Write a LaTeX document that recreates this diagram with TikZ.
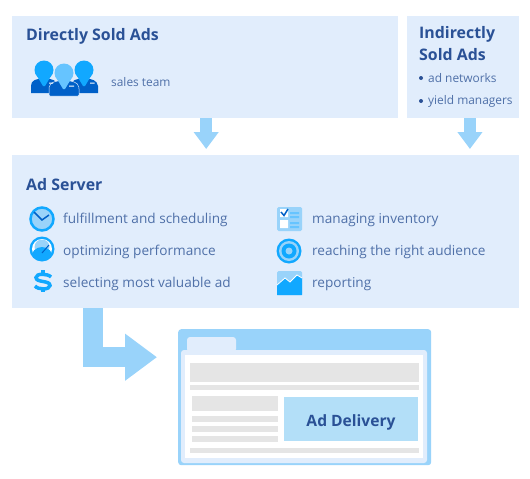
\documentclass[tikz,border=0pt]{standalone}
\usepackage{fontspec}
\setmainfont{Open Sans}
\usetikzlibrary{arrows.meta}
\definecolor{panelblue}{HTML}{E1EDFC}
\definecolor{flowblue}{HTML}{99D3FA}
\definecolor{titleblue}{HTML}{2A5196}
\definecolor{itemblue}{HTML}{4F70A8}
\definecolor{iconblue}{HTML}{11A8FF}
\definecolor{icondark}{HTML}{0060C8}
\definecolor{iconlight}{HTML}{66C4FF}
\definecolor{adblue}{HTML}{B3DFF8}
\definecolor{bargray}{HTML}{E5E5E5}
\tikzset{
  panel/.style={fill=panelblue,anchor=north west,inner sep=0pt},
  title/.style={anchor=base west,inner sep=0pt,text=titleblue,font=\fontsize{15.9}{19}\selectfont\bfseries},
  item/.style={anchor=base west,inner sep=0pt,text=itemblue,font=\fontsize{13.6}{16}\selectfont},
  small/.style={anchor=base west,inner sep=0pt,text=itemblue,font=\fontsize{11.9}{14}\selectfont},
  flow/.style={draw=flowblue,line width=#1,-{Triangle[length=17pt,width=24pt]},shorten >=6pt},
  bar/.style={fill=bargray},
}
\begin{document}
\begin{tikzpicture}[x=1pt,y=-1pt]
\useasboundingbox (0,0) rectangle (530,479);
\node[panel,minimum width=386pt,minimum height=102pt] (direct) at (12,16) {};
\node[panel,minimum width=111.5pt,minimum height=102pt] (indirect) at (407,16) {};
\node[panel,minimum width=507pt,minimum height=153pt] (server) at (12,155) {};
% browser window
\node[fill=flowblue,rounded corners=3pt,anchor=north west,inner sep=0pt,minimum width=253pt,minimum height=136pt] (browser) at (178,329) {};
\fill[panelblue,rounded corners=3pt] (187,352) -- (187,337) -- (236,337) -- (236,352) -- cycle;
\fill[panelblue,rounded corners=3pt] (181,350) rectangle (427,463);
\fill[white] (185,355) rectangle (423,458);
\fill[bar] (190,363) rectangle (419,382);
\fill[bar] (190,385) rectangle (419,389.5);
\fill[bar] (191.5,396) rectangle (278,411);
\fill[bar] (191.5,416) rectangle (278,422);
\fill[bar] (191.5,426) rectangle (278,432);
\fill[bar] (191.5,436) rectangle (278,442);
\fill[bar] (190,448) rectangle (419,452.5);
\node[fill=adblue,anchor=north west,inner sep=0pt,minimum width=134pt,minimum height=44.5pt] (deliverybox) at (284,396.5) {};
\node[title,anchor=base,font=\fontsize{15.6}{19}\selectfont\bfseries] (delivery) at (351,426) {Ad Delivery};
% arrows
\draw[flow=12pt] ([xshift=1pt]direct.south) -- ([xshift=1pt]direct.south |- server.north);
\draw[flow=12pt] ([xshift=7pt]indirect.south) -- ([xshift=7pt]indirect.south |- server.north);
\draw[draw=flowblue,line width=20pt,-{Triangle[length=32pt,width=45pt]},shorten >=21pt] ([xshift=81pt]server.south west) |- ([yshift=40pt]browser.west);
% labels
\node[title] (directtitle) at (26,40.5) {Directly Sold Ads};
\node[small] (sales) at (111,86) {sales team};
\node[title] (indirecttitle) at (419,38) {Indirectly};
\node[title] (indirecttitleb) at (419,60) {Sold Ads};
\node[small] (networks) at (428,82) {ad networks};
\node[small] (yield) at (428,104) {yield managers};
\fill[titleblue] (421,78) circle (2pt) (421,101) circle (2pt);
\node[title] (servertitle) at (26,190) {Ad Server};
\node[item] (fulfil) at (63,223) {fulfillment and scheduling};
\node[item] (optim) at (63,255) {optimizing performance};
\node[item] (select) at (63,287) {selecting most valuable ad};
\node[item] (manage) at (312,223) {managing inventory};
\node[item] (reach) at (312,255) {reaching the right audience};
\node[item] (report) at (312,287) {reporting};
% sales team
\foreach \x in {44,84} {
  \fill[icondark] (\x-13,93) -- (\x-13,86) .. controls (\x-13,80) and (\x-8,79) .. (\x,78) .. controls (\x+8,79) and (\x+13,80) .. (\x+14,86) -- (\x+14,93) -- cycle;
  \fill[iconblue] (\x,70) circle (9.5);
  \fill[iconblue] (\x-7,76) -- (\x+7,76) -- (\x+1,86) -- (\x-1,86) -- cycle;
}
\fill[icondark,draw=panelblue,line width=.5pt,rounded corners=1pt] (49,96) -- (49,88) .. controls (50,82) and (56,81) .. (64,80) .. controls (72,81) and (78,82) .. (79,88) -- (79,96) -- cycle;
\fill[iconlight] (64,73) circle (9.5);
\fill[iconlight] (57,79) -- (71,79) -- (65,89) -- (63,89) -- cycle;
\fill[white] (49,82.5) rectangle (53,83.5) (69,85.5) rectangle (74,86.5) (90,82.5) rectangle (94.5,83.5);
% clock
\draw[iconblue,fill=flowblue,line width=2.5pt] (42,219) circle (11.5);
\draw[icondark,line width=1.5pt] (34,212) -- (42,220) -- (49,215);
% gauge
\fill[iconblue] (42,249) circle (12.5);
\fill[white] (42,249) circle (10);
\fill[flowblue] (42,247) circle (7.5);
\begin{scope}
\clip (42,249) circle (11);
\fill[iconblue] (42,258) circle (11);
\end{scope}
\draw[icondark,line width=1pt] (42,253) -- (49,245);
% dollar sign
\draw[iconblue,line width=3.5pt] (51,277) .. controls (48,273.5) and (36,273) .. (36,277.5) .. controls (36,283) and (50,280) .. (50,285.5) .. controls (50,290) and (38,290) .. (35,286);
\draw[iconblue,line width=3.5pt] (43,270) -- (43,275) (43,288) -- (43,292);
% checklist
\fill[flowblue,rounded corners=1.5pt] (277,207) rectangle (302,231);
\fill[white] (280,209) rectangle (288,217) (280,220) rectangle (288,228);
\draw[icondark,line width=1.5pt] (281,212) -- (284,215.5) -- (288,209);
\fill[iconlight] (290,212) rectangle (299,214) (290,216) rectangle (299,218) (290,222) rectangle (299,224) (290,226) rectangle (299,228);
% target
\fill[iconblue] (289,251) circle (12.5);
\fill[flowblue] (289,251) circle (10);
\fill[iconblue] (289,251) circle (7.5);
\fill[flowblue] (289,251) circle (3.5);
% report
\fill[flowblue,rounded corners=1.5pt] (277,271) rectangle (302,295);
\fill[iconblue] (277,295) -- (277,285) -- (285,278) -- (290,282) -- (297,275) -- (302,278) -- (302,295) -- cycle;
\draw[white,line width=.8pt] (277,285) -- (285,278) -- (290,282) -- (297,275) -- (302,278);
\end{tikzpicture}
\end{document}
